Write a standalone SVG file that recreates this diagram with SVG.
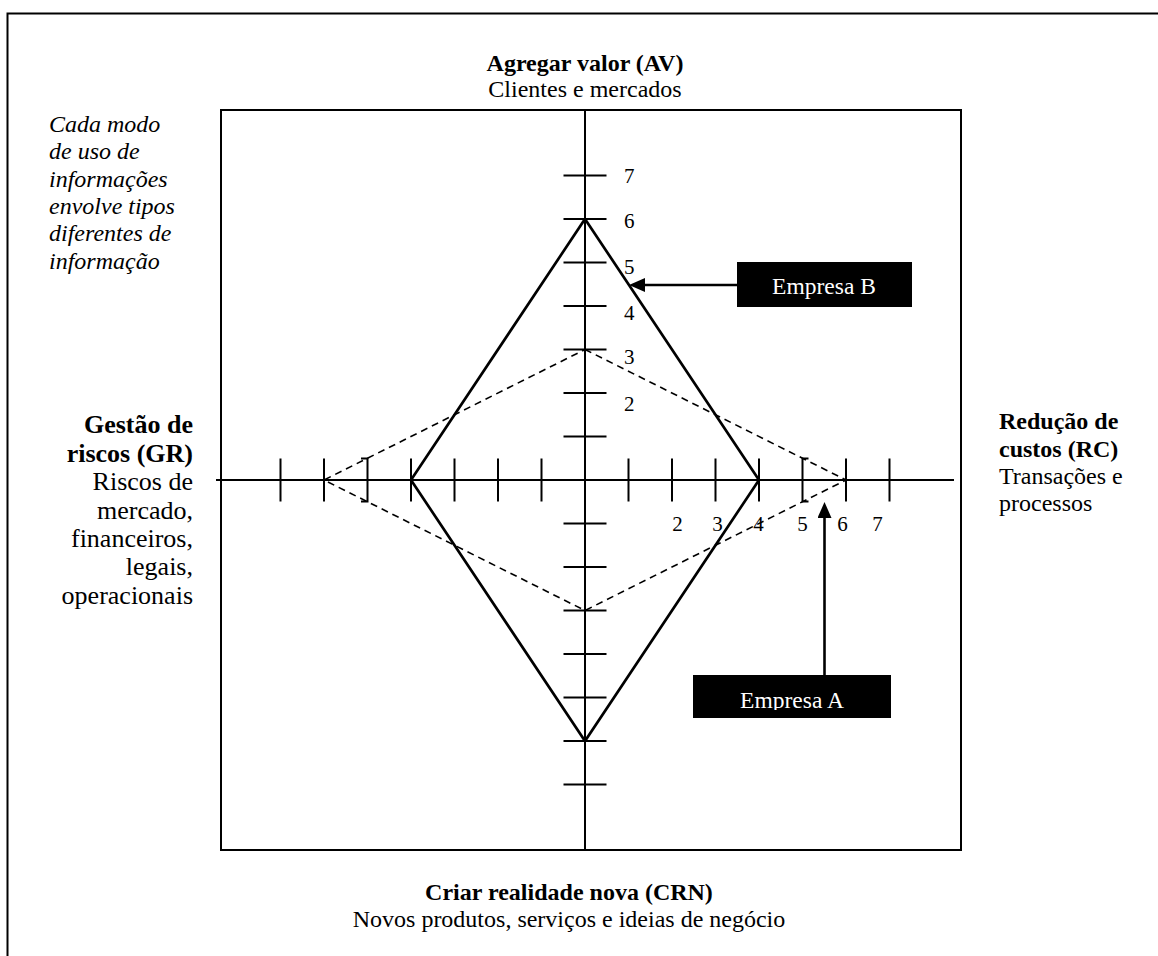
<svg xmlns="http://www.w3.org/2000/svg" width="1158" height="956" viewBox="0 0 1158 956">
<style>
text{font-family:"Liberation Serif","Times New Roman",serif;fill:#000}
.t24{font-size:24px}
.t26{font-size:26px}
.b{font-weight:bold}
.i{font-style:italic}
.dg{font-size:21px}
.ln{stroke:#000;stroke-width:2;fill:none}
.tk{stroke:#000;stroke-width:2;fill:none}
.solid{stroke:#000;stroke-width:2.7;fill:none;stroke-linejoin:miter}
.dash{stroke:#000;stroke-width:1.6;fill:none;stroke-dasharray:7 5}
.box{fill:#000}
.wt{fill:#fff;font-size:23.5px}
.arr{stroke:#000;stroke-width:2.6;fill:none}
</style>
<defs>
<marker id="ah" markerUnits="userSpaceOnUse" markerWidth="16" markerHeight="14" refX="0" refY="7" orient="auto" viewBox="0 0 16 14">
<path d="M0,0 L16,7 L0,14 z" fill="#000"/>
</marker>
<clipPath id="clipA"><rect x="693" y="675" width="198" height="35"/></clipPath>
</defs>
<rect x="0" y="0" width="1158" height="956" fill="#fff"/>
<g id="frame">
<path class="ln" d="M7.5,956 V13.5 H1158"/>
<rect class="ln" x="221" y="110" width="740" height="740"/>
</g>
<g id="axes">
<line class="ln" x1="216" y1="480" x2="954" y2="480"/>
<line class="ln" x1="585" y1="110" x2="585" y2="850"/>
<path class="tk" d="M280.5,458.5V501.5M324,458.5V501.5M361,458.5H367.5V501.5H361M411,458.5V501.5M454.5,458.5V501.5M498,458.5V501.5M541.5,458.5V501.5M628.5,458.5V501.5M672,458.5V501.5M715.5,458.5V501.5M759,458.5V501.5M808.5,458.5H802.5V501.5H808.5M846,458.5V501.5M889.5,458.5V501.5"/>
<path class="tk" d="M563.5,175.5H606.5M563.5,219H606.5M563.5,262.5H606.5M563.5,306H606.5M563.5,349.5H606.5M563.5,393H606.5M563.5,436.5H606.5M563.5,523.5H606.5M563.5,567H606.5M563.5,610.5H606.5M563.5,654H606.5M563.5,697.5H606.5M563.5,741H606.5M563.5,784.5H606.5"/>
<g class="dg">
<text x="624" y="183">7</text>
<text x="624" y="228">6</text>
<text x="624" y="274">5</text>
<text x="624" y="320">4</text>
<text x="624" y="364">3</text>
<text x="624" y="411">2</text>
<text x="677.5" y="531" text-anchor="middle">2</text>
<text x="717.5" y="531" text-anchor="middle">3</text>
<text x="758.5" y="531" text-anchor="middle">4</text>
<text x="802.5" y="531" text-anchor="middle">5</text>
<text x="842.5" y="531" text-anchor="middle">6</text>
<text x="877.5" y="531" text-anchor="middle">7</text>
</g>
</g>
<g id="empresa-B-profile">
<polygon class="solid" points="585,219 759,480 585,741 411,480"/>
</g>
<g id="empresa-A-profile">
<polygon class="dash" points="585,349.5 846,480 585,610.5 324,480"/>
</g>
<g id="label-AV">
<text class="t24 b" x="585" y="71" text-anchor="middle">Agregar valor (AV)</text>
<text class="t24" x="585" y="97" text-anchor="middle">Clientes e mercados</text>
</g>
<g id="label-CRN">
<text class="t24 b" x="569" y="900" text-anchor="middle">Criar realidade nova (CRN)</text>
<text class="t24" x="569" y="927" text-anchor="middle">Novos produtos, serviços e ideias de negócio</text>
</g>
<g id="label-GR" text-anchor="end">
<text class="t26 b" x="193" y="433">Gestão de</text>
<text class="t26 b" x="193" y="462">riscos (GR)</text>
<text class="t26" x="193" y="490">Riscos de</text>
<text class="t26" x="193" y="518.5">mercado,</text>
<text class="t26" x="193" y="547">financeiros,</text>
<text class="t26" x="193" y="575">legais,</text>
<text class="t26" x="193" y="603.5">operacionais</text>
</g>
<g id="label-RC">
<text class="t24 b" x="999" y="429">Redução de</text>
<text class="t24 b" x="999" y="456.5">custos (RC)</text>
<text class="t24" x="999" y="483.5">Transações e</text>
<text class="t24" x="999" y="510.5">processos</text>
</g>
<g id="note">
<text class="t24 i" x="49" y="131.5">Cada modo</text>
<text class="t24 i" x="49" y="159">de uso de</text>
<text class="t24 i" x="49" y="186.5">informações</text>
<text class="t24 i" x="49" y="213.5">envolve tipos</text>
<text class="t24 i" x="49" y="241">diferentes de</text>
<text class="t24 i" x="49" y="268.5">informação</text>
</g>
<g id="empresa-B">
<rect class="box" x="737" y="262" width="175" height="45"/>
<text class="wt" x="824" y="294" text-anchor="middle">Empresa B</text>
</g>
<g id="empresa-A">
<rect class="box" x="693" y="675" width="198" height="43"/>
<text class="wt" x="792" y="708" text-anchor="middle" clip-path="url(#clipA)">Empresa A</text>
</g>
<g id="connectors">
<line class="arr" x1="737" y1="285" x2="645" y2="285" marker-end="url(#ah)"/>
<line class="arr" x1="824.5" y1="675" x2="824.5" y2="518" marker-end="url(#ah)"/>
</g>
</svg>
